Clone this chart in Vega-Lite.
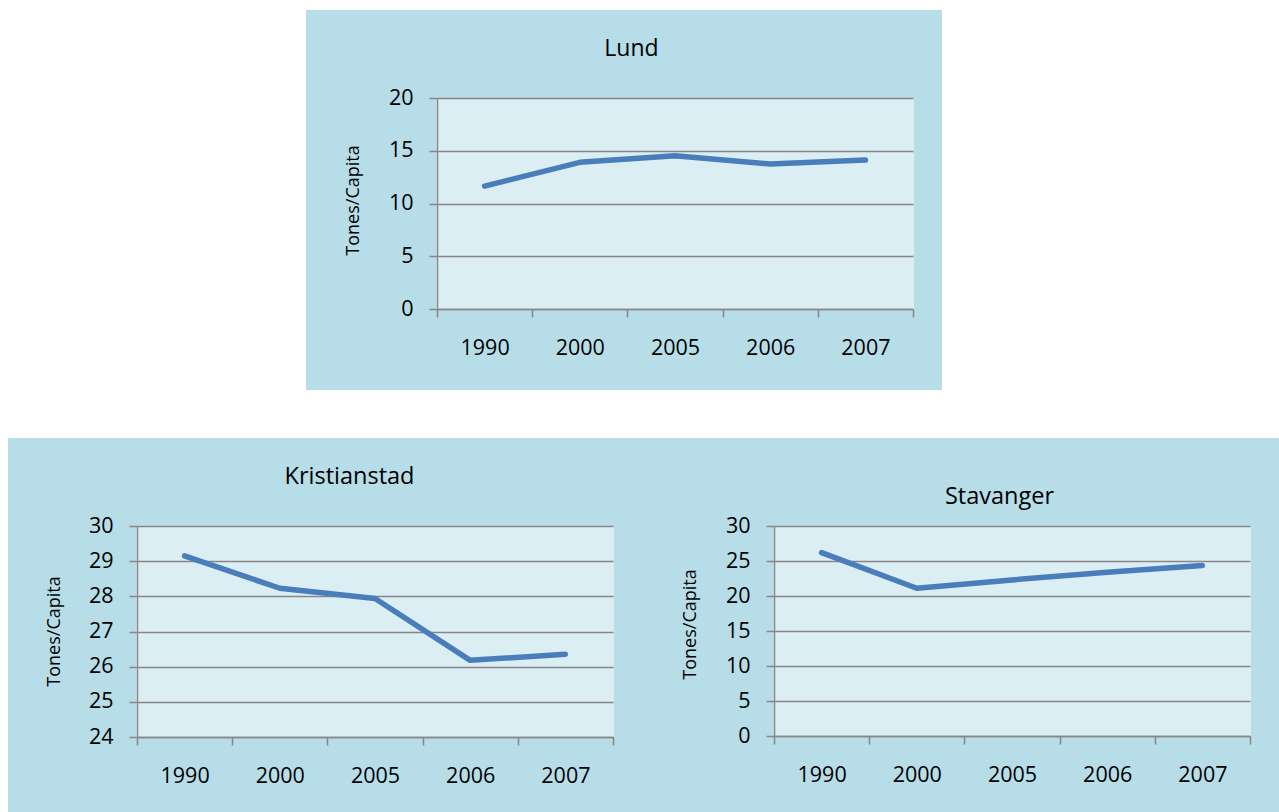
{
  "$schema": "https://vega.github.io/schema/vega-lite/v6.json",
  "background": "white",
  "padding": {"left": 8, "top": 10, "right": 0, "bottom": 0},
  "config": {"view": {"stroke": null}, "font": "Open Sans"},
  "datasets": {
    "emissions": [
      {"city": "Lund", "year": "1990", "value": 11.65},
      {"city": "Lund", "year": "2000", "value": 13.9},
      {"city": "Lund", "year": "2005", "value": 14.52},
      {"city": "Lund", "year": "2006", "value": 13.74},
      {"city": "Lund", "year": "2007", "value": 14.12},
      {"city": "Kristianstad", "year": "1990", "value": 29.15},
      {"city": "Kristianstad", "year": "2000", "value": 28.23},
      {"city": "Kristianstad", "year": "2005", "value": 27.94},
      {"city": "Kristianstad", "year": "2006", "value": 26.18},
      {"city": "Kristianstad", "year": "2007", "value": 26.35},
      {"city": "Stavanger", "year": "1990", "value": 26.2},
      {"city": "Stavanger", "year": "2000", "value": 21.1},
      {"city": "Stavanger", "year": "2005", "value": 22.3},
      {"city": "Stavanger", "year": "2006", "value": 23.4},
      {"city": "Stavanger", "year": "2007", "value": 24.35}
    ]
  },
  "spacing": 48,
  "vconcat": [
    {
      "spacing": 0,
      "hconcat": [
        {"width": 298, "height": 380, "data": {"values": []}, "mark": "point", "view": {"fill": null, "stroke": null}},
        {
          "width": 636, "height": 380,
          "view": {"fill": "#B7DDE8", "stroke": null},
          "title": {"text": "Lund", "anchor": "middle", "offset": -69, "dx": 7.5, "baseline": "alphabetic", "font": "Open Sans", "fontSize": 23, "fontWeight": "normal", "color": "#000000"},
          "data": {"name": "emissions"},
          "transform": [{"filter": "datum.city === 'Lund'"}],
          "layer": [
            {
              "mark": {"type": "point", "opacity": 0},
              "encoding": {
                "x": {"field": "year", "type": "ordinal", "scale": {"type": "band", "range": [131, 607], "paddingInner": 0, "paddingOuter": 0},
                  "axis": {"orient": "bottom", "offset": -81, "tickBand": "center", "grid": true, "gridColor": "#DBEEF4", "gridWidth": 97, "gridOpacity": 1, "ticks": false, "labels": false, "domain": false, "title": null}},
                "y": {"field": "value", "type": "quantitative", "scale": {"domain": [0, 20], "range": [292, 81], "nice": false, "zero": false}, "axis": null}
              }
            },
            {
              "mark": {"type": "line", "color": "#4A7EBB", "strokeWidth": 5.5, "strokeCap": "round", "strokeJoin": "round"},
              "encoding": {
                "x": {"field": "year", "type": "ordinal", "bandPosition": 0.5, "scale": {"type": "band", "range": [131, 607], "paddingInner": 0, "paddingOuter": 0},
                  "axis": {"orient": "bottom", "offset": -81, "tickBand": "extent", "grid": false, "ticks": true, "tickSize": 8, "tickColor": "#878787", "tickWidth": 1.5, "domain": true, "domainColor": "#878787", "domainWidth": 1.5, "labelAngle": 0, "labelFont": "Open Sans", "labelFontSize": 21.5, "labelColor": "#000000", "labelPadding": 20, "title": null}},
                "y": {"field": "value", "type": "quantitative", "scale": {"domain": [0, 20], "range": [299, 88], "nice": false, "zero": false},
                  "axis": {"orient": "left", "offset": -131, "values": [0, 5, 10, 15, 20], "grid": true, "gridColor": "#878787", "gridWidth": 1.5, "gridOpacity": 1, "domain": true, "domainColor": "#878787", "domainWidth": 1.5, "ticks": true, "tickSize": 8, "tickColor": "#878787", "tickWidth": 1.5, "labelFont": "Open Sans", "labelFontSize": 21.5, "labelColor": "#000000", "labelPadding": 16, "title": "Tones/Capita", "titleFont": "Open Sans", "titleFontSize": 18, "titleFontWeight": "normal", "titleColor": "#000000", "titleX": -84, "titleY": 190, "titleBaseline": "middle"}}
              }
            }
          ],
          "resolve": {"scale": {"y": "independent"}, "axis": {"x": "independent", "y": "independent"}}
        }
      ]
    },
    {
      "spacing": 0,
      "hconcat": [
        {
          "width": 642, "height": 374,
          "view": {"fill": "#B7DDE8", "stroke": null},
          "title": {"text": "Kristianstad", "anchor": "middle", "offset": -69, "dx": 20.5, "baseline": "alphabetic", "font": "Open Sans", "fontSize": 23.5, "fontWeight": "normal", "color": "#000000"},
          "data": {"name": "emissions"},
          "transform": [{"filter": "datum.city === 'Kristianstad'"}],
          "layer": [
            {
              "mark": {"type": "point", "opacity": 0},
              "encoding": {
                "x": {"field": "year", "type": "ordinal", "scale": {"type": "band", "range": [129, 605], "paddingInner": 0, "paddingOuter": 0},
                  "axis": {"orient": "bottom", "offset": -75, "tickBand": "center", "grid": true, "gridColor": "#DBEEF4", "gridWidth": 97, "gridOpacity": 1, "ticks": false, "labels": false, "domain": false, "title": null}},
                "y": {"field": "value", "type": "quantitative", "scale": {"domain": [24, 30], "range": [286, 75], "nice": false, "zero": false}, "axis": null}
              }
            },
            {
              "mark": {"type": "line", "color": "#4A7EBB", "strokeWidth": 5.5, "strokeCap": "round", "strokeJoin": "round"},
              "encoding": {
                "x": {"field": "year", "type": "ordinal", "bandPosition": 0.5, "scale": {"type": "band", "range": [129, 605], "paddingInner": 0, "paddingOuter": 0},
                  "axis": {"orient": "bottom", "offset": -75, "tickBand": "extent", "grid": false, "ticks": true, "tickSize": 8, "tickColor": "#878787", "tickWidth": 1.5, "domain": true, "domainColor": "#878787", "domainWidth": 1.5, "labelAngle": 0, "labelFont": "Open Sans", "labelFontSize": 21.5, "labelColor": "#000000", "labelPadding": 20, "title": null}},
                "y": {"field": "value", "type": "quantitative", "scale": {"domain": [24, 30], "range": [299, 88], "nice": false, "zero": false},
                  "axis": {"orient": "left", "offset": -129, "values": [24, 25, 26, 27, 28, 29, 30], "grid": true, "gridColor": "#878787", "gridWidth": 1.5, "gridOpacity": 1, "domain": true, "domainColor": "#878787", "domainWidth": 1.5, "ticks": true, "tickSize": 8, "tickColor": "#878787", "tickWidth": 1.5, "labelFont": "Open Sans", "labelFontSize": 21.5, "labelColor": "#000000", "labelPadding": 16, "title": "Tones/Capita", "titleFont": "Open Sans", "titleFontSize": 18, "titleFontWeight": "normal", "titleColor": "#000000", "titleX": -83, "titleY": 193, "titleBaseline": "middle"}}
              }
            }
          ],
          "resolve": {"scale": {"y": "independent"}, "axis": {"x": "independent", "y": "independent"}}
        },
        {
          "width": 629, "height": 374,
          "view": {"fill": "#B7DDE8", "stroke": null},
          "title": {"text": "Stavanger", "anchor": "middle", "offset": -89, "dx": 35, "baseline": "alphabetic", "font": "Open Sans", "fontSize": 23.5, "fontWeight": "normal", "color": "#000000"},
          "data": {"name": "emissions"},
          "transform": [{"filter": "datum.city === 'Stavanger'"}],
          "layer": [
            {
              "mark": {"type": "point", "opacity": 0},
              "encoding": {
                "x": {"field": "year", "type": "ordinal", "scale": {"type": "band", "range": [124, 600], "paddingInner": 0, "paddingOuter": 0},
                  "axis": {"orient": "bottom", "offset": -76, "tickBand": "center", "grid": true, "gridColor": "#DBEEF4", "gridWidth": 97, "gridOpacity": 1, "ticks": false, "labels": false, "domain": false, "title": null}},
                "y": {"field": "value", "type": "quantitative", "scale": {"domain": [0, 30], "range": [286, 76], "nice": false, "zero": false}, "axis": null}
              }
            },
            {
              "mark": {"type": "line", "color": "#4A7EBB", "strokeWidth": 5.5, "strokeCap": "round", "strokeJoin": "round"},
              "encoding": {
                "x": {"field": "year", "type": "ordinal", "bandPosition": 0.5, "scale": {"type": "band", "range": [124, 600], "paddingInner": 0, "paddingOuter": 0},
                  "axis": {"orient": "bottom", "offset": -76, "tickBand": "extent", "grid": false, "ticks": true, "tickSize": 8, "tickColor": "#878787", "tickWidth": 1.5, "domain": true, "domainColor": "#878787", "domainWidth": 1.5, "labelAngle": 0, "labelFont": "Open Sans", "labelFontSize": 21.5, "labelColor": "#000000", "labelPadding": 20, "title": null}},
                "y": {"field": "value", "type": "quantitative", "scale": {"domain": [0, 30], "range": [298, 88], "nice": false, "zero": false},
                  "axis": {"orient": "left", "offset": -124, "values": [0, 5, 10, 15, 20, 25, 30], "grid": true, "gridColor": "#878787", "gridWidth": 1.5, "gridOpacity": 1, "domain": true, "domainColor": "#878787", "domainWidth": 1.5, "ticks": true, "tickSize": 8, "tickColor": "#878787", "tickWidth": 1.5, "labelFont": "Open Sans", "labelFontSize": 21.5, "labelColor": "#000000", "labelPadding": 16, "title": "Tones/Capita", "titleFont": "Open Sans", "titleFontSize": 18, "titleFontWeight": "normal", "titleColor": "#000000", "titleX": -84, "titleY": 186, "titleBaseline": "middle"}}
              }
            }
          ],
          "resolve": {"scale": {"y": "independent"}, "axis": {"x": "independent", "y": "independent"}}
        }
      ]
    }
  ]
}
